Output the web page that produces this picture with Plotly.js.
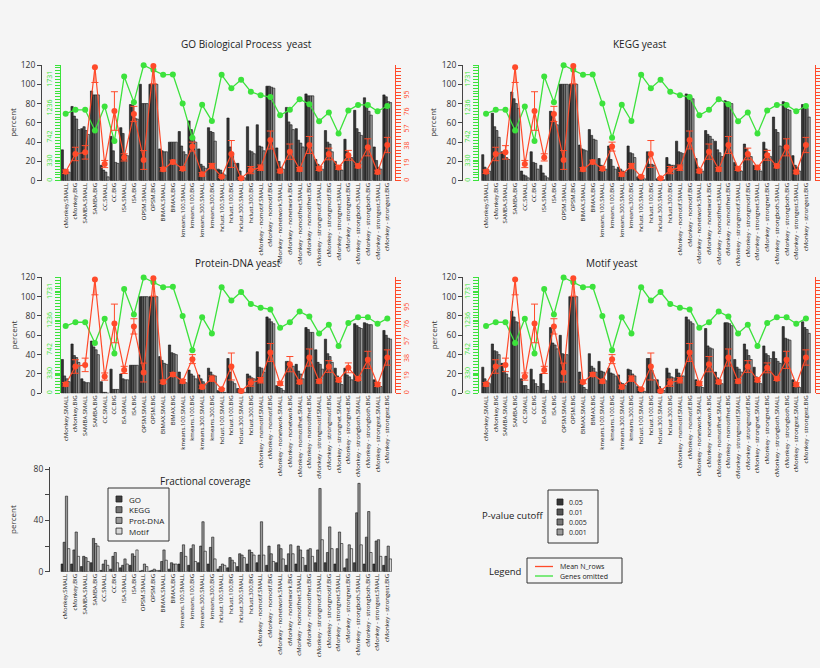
<!DOCTYPE html>
<html><head><meta charset="utf-8">
<script src="https://cdn.plot.ly/plotly-3.0.1.min.js"></script>
<style>html,body{margin:0;padding:0;background:#f5f5f5}</style>
</head><body><div id="chart" style="width:820px;height:668px"></div>
<script>
const categories = ['cMonkey.SMALL','cMonkey.BIG','SAMBA.SMALL','SAMBA.BIG','CC.SMALL','CC.BIG','ISA.SMALL','ISA.BIG','OPSM.SMALL','OPSM.BIG','BIMAX.SMALL','BIMAX.BIG','kmeans.100.SMALL','kmeans.100.BIG','kmeans.300.SMALL','kmeans.300.BIG','hclust.100.SMALL','hclust.100.BIG','hclust.300.SMALL','hclust.300.BIG','cMonkey - nomotif.SMALL','cMonkey - nomotif.BIG','cMonkey - nonetwork.SMALL','cMonkey - nonetwork.BIG','cMonkey - nomotifnet.SMALL','cMonkey - nomotifnet.BIG','cMonkey - strongmotif.SMALL','cMonkey - strongmotif.BIG','cMonkey - strongnet.SMALL','cMonkey - strongnet.BIG','cMonkey - strongboth.SMALL','cMonkey - strongboth.BIG','cMonkey - strongest.SMALL','cMonkey - strongest.BIG'];
const cutoffLabels = ['0.05','0.01','0.005','0.001'];
const panelTitles = ['GO Biological Process  yeast','KEGG yeast','Protein-DNA yeast','Motif yeast'];

const goP05  = [32,77,54,93,16,46,55,79,100,100,33,40,51,62,33,55,12,65,18,56,58,98,34,76,54,90,22,52,20,43,73,86,35,89];
const goP01  = [12,67,56,89,11,31,49,78,80,100,31,40,36,53,17,51,11,35,10,31,36,98,20,61,42,88,17,40,15,30,54,80,21,87];
const goP005 = [10,64,52,89,9,19,27,65,80,100,30,40,30,45,15,50,8,29,4,30,35,97,14,58,39,88,15,38,12,27,50,72,14,82];
const goP001 = [9,53,48,89,4,18,26,64,80,100,30,40,27,40,13,41,6,18,3,28,31,96,12,53,35,88,12,30,11,24,47,68,12,81];

const keggP05  = [27,70,30,92,10,30,16,72,100,100,37,53,23,36,14,36,4,30,2,24,41,90,23,52,41,83,19,38,16,40,66,82,26,79];
const keggP01  = [14,56,28,85,6,19,8,71,100,100,33,47,16,22,12,29,3,17,1,17,30,89,14,48,32,82,14,33,14,33,53,81,16,78];
const keggP005 = [12,52,24,80,5,18,5,62,100,100,32,43,13,15,10,28,2,17,1,16,29,87,12,46,29,81,12,28,12,28,50,74,14,75];
const keggP001 = [10,45,22,75,3,12,3,58,100,100,31,42,12,12,9,24,2,16,1,16,28,85,10,43,25,80,10,25,10,25,36,73,10,66];

const protDnaP05  = [35,51,15,54,12,25,20,29,100,100,38,50,22,24,19,26,3,36,5,20,43,79,8,33,30,68,45,56,26,26,72,73,14,65];
const protDnaP01  = [18,39,12,48,1,4,15,29,100,100,34,42,13,20,15,22,2,22,4,18,27,77,6,33,23,66,32,41,18,19,70,72,9,60];
const protDnaP005 = [15,37,11,45,1,4,14,29,100,100,31,41,12,18,12,19,2,12,2,16,26,74,5,30,20,63,30,38,12,17,68,71,8,57];
const protDnaP001 = [12,32,11,40,0,4,14,29,100,100,30,40,11,15,9,18,1,10,1,15,22,72,3,28,15,63,25,32,9,14,67,71,7,56];

const motifP05  = [27,51,31,85,15,25,20,68,60,100,22,41,33,26,19,25,7,36,14,26,25,79,14,67,22,73,35,51,27,49,43,69,14,74];
const motifP01  = [15,44,23,79,8,14,10,52,41,100,12,28,23,21,11,24,4,36,7,21,21,76,11,49,16,73,27,45,17,41,36,57,7,68];
const motifP005 = [12,43,20,74,8,10,3,50,40,100,6,26,22,20,10,20,3,24,4,17,18,74,7,47,14,72,25,39,12,39,33,56,6,66];
const motifP001 = [10,40,16,73,4,7,3,46,40,100,4,22,13,18,8,18,2,14,3,16,18,72,6,46,10,70,22,35,10,36,31,55,6,62];

const genesOmitted = [1150,1216,1216,860,1274,683,1786,1348,1981,1902,1816,1823,1323,736,1302,1025,1816,1588,1733,1528,1464,1436,1121,1216,1399,1313,1022,1171,810,1204,1300,1300,1191,1282];
const meanNRows = [10,29.8,31.6,126.5,18.6,77.7,26,74.4,23.1,128,12.7,20.9,13.4,38,7.1,16.3,4.5,29.8,2.6,11.8,14.5,45.4,10.8,32.4,12.7,39.8,13.4,29.8,14.8,28.3,16.3,37.2,9.7,39.8];
const meanNRowsErr = [2,7.5,7.5,17,4,21.5,4,8.5,10.5,20,2,2,2,5,2,3,1,15,1,4,3,10,2,8.5,2,9.5,2,6.5,2,5.5,2,9.5,2,8.5];

const coverageLabels = ['GO','KEGG','Prot-DNA','Motif'];
const coverageGO      = [6,6,4,7,1,2,3,5,0.5,0.5,1,2,6,5,7,6,2,3,4,6,7,5,7,5,6,5,7,7,6,3,7,6,6,5];
const coverageKEGG    = [23,17,12,26,6,12,5,14,1,1,8,7,15,18,20,19,4,11,14,17,13,20,21,14,20,17,17,15,18,10,46,27,24,12];
const coverageProtDNA = [59,31,11,22,9,15,10,12,6,2,17,6,21,21,39,27,6,9,13,15,39,14,18,21,17,18,65,35,31,21,69,47,25,20];
const coverageMotif   = [18,12,8,20,5,7,6,17,4,1,9,6,12,8,16,10,5,7,11,13,13,8,10,14,11,12,25,18,22,18,21,15,12,10];

const percentTicks = [0,20,40,60,80,100,120];
const greenTicks = [0,330,742,1236,1731];
const redTicks = [0,19,38,57,76,95];
const coverageTicks = [0,20,40,60,80];
const coverageTickText = ['0','','40','','80'];
const lineLegendLabels = ['Mean N_rows','Genes omitted'];

// ---- styling / geometry ----
const W = 820, H = 668;
const px = v => v / W, py = v => 1 - v / H;
const FONT = 'Open Sans, Lato, sans-serif';
const cutoffColors = ['#353535','#555555','#767676','#9a9a9a'];
const coverageColors = ['#404040','#747474','#9a9a9a','#d8d8d8'];
const GREEN = '#3ce23c', RED = '#ff4a2a';

const panelData = [
  [goP05, goP01, goP005, goP001],
  [keggP05, keggP01, keggP005, keggP001],
  [protDnaP05, protDnaP01, protDnaP005, protDnaP001],
  [motifP05, motifP01, motifP005, motifP001]
];
const panelGeom = [
  {x:[60.8,392.2], y:[180.7,65],  pct:41,  green:59.5, red:395, redLabels:true,  tx:246, ty:44,  lx:13},
  {x:[481.2,810.8],y:[180.7,65],  pct:462, green:478,  red:815, redLabels:false, tx:640, ty:44,  lx:433},
  {x:[60.8,392.2], y:[393.3,277.3],pct:41, green:59.5, red:395, redLabels:true,  tx:238, ty:263, lx:13},
  {x:[481.2,810.8],y:[393.3,277.3],pct:462,green:478,  red:815, redLabels:false, tx:612, ty:263, lx:433}
];

const traces = [];
const layout = {
  width: W, height: H, margin:{l:0,r:0,t:0,b:0},
  paper_bgcolor:'#f5f5f5', plot_bgcolor:'rgba(0,0,0,0)',
  showlegend:false, barmode:'group', bargap:0.08, bargroupgap:0,
  font:{family:FONT, color:'#222'},
  annotations:[], shapes:[]
};

function xAxisDef(domain, anchor){
  return {domain:domain, range:[-0.5,33.5], type:'category', anchor:anchor,
    tickangle:-90, tickfont:{size:6, color:'#111'}, ticks:'', showline:false,
    showgrid:false, zeroline:false, automargin:false, fixedrange:true};
}
function ann(text, x, y, opts){
  layout.annotations.push(Object.assign({text:text, x:px(x), y:py(y), xref:'paper', yref:'paper',
    xanchor:'center', yanchor:'middle', showarrow:false,
    font:{size:10, color:'#222', family:FONT}}, opts||{}));
}

panelGeom.forEach((g, i) => {
  const xk = i === 0 ? 'x' : 'x' + (i+1);
  const xName = i === 0 ? 'xaxis' : 'xaxis' + (i+1);
  const y1 = 3*i+1, y2 = 3*i+2, y3 = 3*i+3;
  const yk = n => n === 1 ? 'y' : 'y' + n;
  const yName = n => n === 1 ? 'yaxis' : 'yaxis' + n;
  layout[xName] = xAxisDef([px(g.x[0]), px(g.x[1])], yk(y1));
  layout[yName(y1)] = {domain:[py(g.y[0]), py(g.y[1])], range:[0,120], anchor:'free', position:px(g.pct),
    tickvals:percentTicks, ticks:'outside', ticklen:4, tickcolor:'#444', showline:true, linecolor:'#444', linewidth:1,
    tickfont:{size:8.5, color:'#333'}, showgrid:false, zeroline:false, fixedrange:true};
  layout[yName(y2)] = {overlaying:yk(y1), anchor:'free', position:px(g.green), side:'left', range:[0,1985],
    tickvals:greenTicks, tickangle:-90, ticks:'outside', ticklen:5, tickcolor:GREEN, showline:true, linecolor:GREEN,
    tickfont:{size:7, color:GREEN}, showgrid:false, zeroline:false, fixedrange:true,
    minor:{tickmode:'linear', tick0:0, dtick:49.6, ticklen:5, tickcolor:GREEN, ticks:'outside', showgrid:false}};
  layout[yName(y3)] = {overlaying:yk(y1), anchor:'free', position:px(g.red), side:'right', range:[0,129],
    tickvals:redTicks, tickangle:-90, ticks:'outside', ticklen:5, tickcolor:RED, showline:true, linecolor:RED,
    showticklabels:g.redLabels,
    tickfont:{size:7, color:RED}, showgrid:false, zeroline:false, fixedrange:true,
    minor:{tickmode:'linear', tick0:0, dtick:3.8, ticklen:5, tickcolor:RED, ticks:'outside', showgrid:false}};

  panelData[i].forEach((vals, k) => {
    traces.push({type:'bar', x:categories, y:vals, xaxis:xk, yaxis:yk(y1), name:cutoffLabels[k],
      marker:{color:cutoffColors[k], line:{color:'#111', width:0.6}}, showlegend:false});
  });
  traces.push({type:'scatter', mode:'lines+markers', x:categories, y:genesOmitted, xaxis:xk, yaxis:yk(y2),
    name:lineLegendLabels[1], line:{color:GREEN, width:1.3}, marker:{color:GREEN, size:6}, cliponaxis:false});
  traces.push({type:'scatter', mode:'lines+markers', x:categories, y:meanNRows, xaxis:xk, yaxis:yk(y3),
    name:lineLegendLabels[0], line:{color:RED, width:1.2}, marker:{color:RED, size:6}, cliponaxis:false,
    error_y:{type:'data', array:meanNRowsErr, visible:true, color:RED, thickness:1, width:3.5}});

  ann(panelTitles[i], g.tx, g.ty, {font:{size:10, color:'#222', family:FONT}});
  ann('percent', g.lx, (g.y[0]+g.y[1])/2, {textangle:-90, font:{size:8, color:'#333', family:FONT}});
});

// ---- Fractional coverage panel ----
layout.xaxis5 = xAxisDef([px(60.5), px(392)], 'y13');
layout.yaxis13 = {domain:[py(571.7), py(466.7)], range:[0,82], anchor:'free', position:px(49),
  tickvals:coverageTicks, ticktext:coverageTickText, ticks:'outside', ticklen:4, tickcolor:'#444',
  showline:true, linecolor:'#444', linewidth:1, tickfont:{size:8.5, color:'#333'},
  showgrid:false, zeroline:false, fixedrange:true};
[coverageGO, coverageKEGG, coverageProtDNA, coverageMotif].forEach((vals, k) => {
  traces.push({type:'bar', x:categories, y:vals, xaxis:'x5', yaxis:'y13', name:coverageLabels[k],
    marker:{color:coverageColors[k], line:{color:'#111', width:0.6}}, showlegend:false});
});
ann('Fractional coverage', 205, 481, {font:{size:10, color:'#222', family:FONT}});
ann('percent', 12, 520, {textangle:-90, font:{size:8, color:'#333', family:FONT}});

// ---- hand-built legends ----
function box(x0,y0,x1,y1){
  layout.shapes.push({type:'rect', xref:'paper', yref:'paper', x0:px(x0), x1:px(x1), y0:py(y1), y1:py(y0),
    line:{color:'#333', width:1}, fillcolor:'rgba(0,0,0,0)'});
}
function swatch(x,y,color){
  layout.shapes.push({type:'rect', xref:'paper', yref:'paper', x0:px(x), x1:px(x+6), y0:py(y+3), y1:py(y-3),
    line:{color:'#222', width:0.8}, fillcolor:color});
}
function legendText(t,x,y,size){
  ann(t, x, y, {xanchor:'left', font:{size:size||7.5, color:'#222', family:FONT}});
}
// coverage legend
box(108,488,169,541);
coverageLabels.forEach((lab,k) => { swatch(116, 499+k*10.7, coverageColors[k]); legendText(lab, 127, 499+k*10.7, 8); });
// p-value legend
box(548,490,598,543);
ann('P-value cutoff', 545, 515, {xanchor:'right', font:{size:9.5, color:'#222', family:FONT}});
cutoffLabels.forEach((lab,k) => { swatch(557, 502+k*10, cutoffColors[k]); legendText(lab, 567, 502+k*10, 7); });
// line legend
box(527,558,622,583);
ann('Legend', 523, 571, {xanchor:'right', font:{size:9.5, color:'#222', family:FONT}});
[RED, GREEN].forEach((c,k) => {
  const yy = 566.5 + k*9.5;
  layout.shapes.push({type:'line', xref:'paper', yref:'paper', x0:px(535), x1:px(553), y0:py(yy), y1:py(yy),
    line:{color:c, width:1.3}});
  legendText(lineLegendLabels[k], 558, yy, 7);
});

Plotly.newPlot('chart', traces, layout, {displayModeBar:false, staticPlot:true});
</script>
</body></html>
